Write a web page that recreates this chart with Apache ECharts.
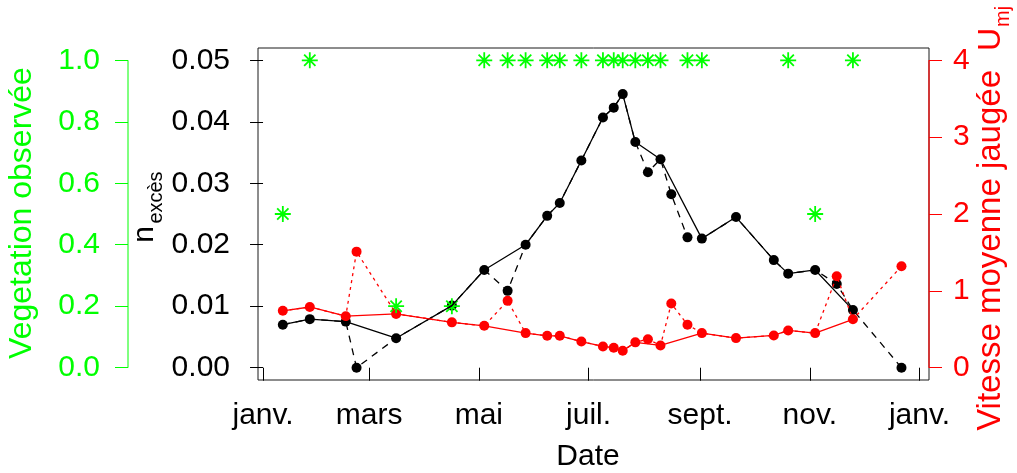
<!DOCTYPE html>
<html>
<head>
<meta charset="utf-8">
<script src="https://cdn.jsdelivr.net/npm/echarts@6/dist/echarts.min.js"></script>
<style>
  html, body { margin: 0; padding: 0; background: #ffffff; }
  #c { width: 1017px; height: 473px; }
</style>
</head>
<body>
<div id="c"></div>
<script>
// Sampling dates
const dates = [
  '2014-01-12', '2014-01-27', '2014-02-16', '2014-02-22', '2014-03-16', '2014-04-16',
  '2014-05-04', '2014-05-17', '2014-05-27', '2014-06-08', '2014-06-15', '2014-06-27',
  '2014-07-09', '2014-07-15', '2014-07-20', '2014-07-27', '2014-08-03', '2014-08-10',
  '2014-08-16', '2014-08-25', '2014-09-02', '2014-09-21', '2014-10-12', '2014-10-20',
  '2014-11-04', '2014-11-16', '2014-11-25', '2014-12-22'
];
// Manning roughness excess (left inner axis)
const nExces = [
  0.0070, 0.0079, 0.0075, 0.0000, 0.0048, 0.0101,
  0.0159, 0.0125, 0.0200, 0.0247, 0.0268, 0.0337,
  0.0407, 0.0423, 0.0445, 0.0367, 0.0318, 0.0339,
  0.0282, 0.0212, 0.0210, 0.0245, 0.0175, 0.0153,
  0.0159, 0.0136, 0.0094, 0.0000
];
// Gauged mean velocity (right axis)
const vitesse = [
  0.74, 0.79, 0.67, 1.51, 0.70, 0.59,
  0.545, 0.87, 0.45, 0.415, 0.415, 0.34,
  0.277, 0.26, 0.22, 0.33, 0.37, 0.29,
  0.835, 0.56, 0.45, 0.385, 0.42, 0.485,
  0.45, 1.19, 0.63, 1.32
];
// Observed vegetation (left outer axis), null = not observed
const vegetation = [
  0.5, 1, null, null, 0.2, 0.2,
  1, 1, 1, 1, 1, 1,
  1, 1, 1, 1, 1, 1,
  null, 1, 1, null, null, 1,
  0.5, null, 1, null
];
// Dates kept in the solid (filtered) series
const keep = [
  1, 1, 1, 0, 1, 1,
  1, 0, 1, 1, 1, 1,
  1, 1, 1, 1, 0, 1,
  0, 0, 1, 1, 1, 1,
  1, 0, 1, 0
];
// Axis ticks
const monthTicks = ['2014-01-01', '2014-03-01', '2014-05-01', '2014-07-01', '2014-09-01', '2014-11-01', '2015-01-01'];
const monthLabels = ['janv.', 'mars', 'mai', 'juil.', 'sept.', 'nov.', 'janv.'];
const nTicks = [0, 0.01, 0.02, 0.03, 0.04, 0.05];
const vegTicks = [0, 0.2, 0.4, 0.6, 0.8, 1.0];
const uTicks = [0, 1, 2, 3, 4];

const FONT = '"Liberation Sans", Arial, sans-serif';
const GREEN = '#00ff00';
const RED = '#ff0000';
const BLACK = '#000000';

const DAY = 86400000;
const ORIGIN = Date.UTC(2014, 0, 1);
function dayOf(s) {
  const p = s.split('-').map(Number);
  return (Date.UTC(p[0], p[1] - 1, p[2]) - ORIGIN) / DAY;
}
const xs = dates.map(dayOf);
const tickDays = monthTicks.map(dayOf);

const allPts = (vals) => xs.map((d, i) => [d, vals[i]]);
const keptPts = (vals) => xs.map((d, i) => [d, vals[i]]).filter((p, i) => keep[i]);
const vegPts = xs.map((d, i) => [d, vegetation[i]]).filter(p => p[1] !== null);

const GRID = { left: 258, top: 48, width: 671, height: 332 };
const GREEN_OFFSET = 130;

const tickFont = { fontSize: 30, fontFamily: FONT };

const chart = echarts.init(document.getElementById('c'), null, { renderer: 'canvas' });

const option = {
  animation: false,
  backgroundColor: '#ffffff',
  grid: {
    left: GRID.left, top: GRID.top, width: GRID.width, height: GRID.height,
    show: true, borderColor: '#1a1a1a', borderWidth: 1, backgroundColor: 'transparent'
  },
  xAxis: {
    type: 'value', min: -2.8, max: 370.3,
    axisLine: { show: false }, splitLine: { show: false },
    axisTick: { show: true, customValues: tickDays, length: 13, inside: false, lineStyle: { color: BLACK, width: 1 } },
    axisLabel: Object.assign({
      customValues: tickDays, color: BLACK, margin: 21, hideOverlap: false,
      formatter: v => monthLabels[tickDays.indexOf(v)]
    }, tickFont)
  },
  yAxis: [
    {
      type: 'value', position: 'left', min: -0.002, max: 0.052,
      axisLine: { show: false }, splitLine: { show: false },
      axisTick: { show: true, customValues: nTicks, length: 13, lineStyle: { color: BLACK, width: 1 } },
      axisLabel: Object.assign({
        customValues: nTicks, color: BLACK, margin: 28, padding: [4, 0, 0, 0],
        formatter: v => v.toFixed(2)
      }, tickFont)
    },
    {
      type: 'value', position: 'left', offset: GREEN_OFFSET, min: -0.04, max: 1.04,
      axisLine: { show: false }, splitLine: { show: false },
      axisTick: { show: true, customValues: vegTicks, length: 13, lineStyle: { color: GREEN, width: 1 } },
      axisLabel: Object.assign({
        customValues: vegTicks, color: GREEN, margin: 28, padding: [4, 0, 0, 0],
        formatter: v => v.toFixed(1)
      }, tickFont)
    },
    {
      type: 'value', position: 'right', min: -0.16, max: 4.16,
      axisLine: { show: false }, splitLine: { show: false },
      axisTick: { show: true, customValues: uTicks, length: 13, lineStyle: { color: RED, width: 1 } },
      axisLabel: Object.assign({
        customValues: uTicks, color: RED, margin: 24, padding: [4, 0, 0, 0],
        formatter: v => String(v)
      }, tickFont)
    }
  ],
  series: [
    {
      name: 'n dashed', type: 'line', yAxisIndex: 0, data: allPts(nExces),
      symbol: 'none', lineStyle: { color: BLACK, width: 1.3, type: [7, 6] }
    },
    {
      name: 'n solid', type: 'line', yAxisIndex: 0, data: keptPts(nExces),
      symbol: 'none', lineStyle: { color: BLACK, width: 1.3 }
    },
    {
      name: 'n points', type: 'scatter', yAxisIndex: 0, data: allPts(nExces),
      symbol: 'circle', symbolSize: 10, itemStyle: { color: BLACK, opacity: 1 }
    },
    {
      name: 'U dotted', type: 'line', yAxisIndex: 2, data: allPts(vitesse),
      symbol: 'none', lineStyle: { color: RED, width: 1.3, type: [3, 4] }
    },
    {
      name: 'U solid', type: 'line', yAxisIndex: 2, data: keptPts(vitesse),
      symbol: 'none', lineStyle: { color: RED, width: 1.3 }
    },
    {
      name: 'U points', type: 'scatter', yAxisIndex: 2, data: allPts(vitesse),
      symbol: 'circle', symbolSize: 10, itemStyle: { color: RED, opacity: 1 }
    },
    {
      name: 'vegetation', type: 'scatter', yAxisIndex: 1, data: vegPts,
      symbol: 'path://M0,-8L0,8M-8,0L8,0M-5.66,-5.66L5.66,5.66M-5.66,5.66L5.66,-5.66',
      symbolSize: 16, symbolKeepAspect: true,
      itemStyle: { color: 'none', borderColor: GREEN, borderWidth: 1.8, opacity: 1 }
    }
  ]
};

chart.setOption(option);

// Axis lines spanning first to last tick, and rotated axis titles
const gy0 = chart.convertToPixel({ yAxisIndex: 1 }, vegTicks[0]);
const gy1 = chart.convertToPixel({ yAxisIndex: 1 }, vegTicks[vegTicks.length - 1]);
const ry0 = chart.convertToPixel({ yAxisIndex: 2 }, uTicks[0]);
const ry1 = chart.convertToPixel({ yAxisIndex: 2 }, uTicks[uTicks.length - 1]);
const gx = GRID.left - GREEN_OFFSET;
const rx = GRID.left + GRID.width;

const rot = Math.PI / 2;
chart.setOption({
  graphic: [
    { type: 'line', shape: { x1: gx, y1: gy0, x2: gx, y2: gy1 }, style: { stroke: GREEN, lineWidth: 1 }, z: 10 },
    { type: 'line', shape: { x1: rx, y1: ry0, x2: rx, y2: ry1 }, style: { stroke: RED, lineWidth: 1.2 }, z: 10 },
    {
      type: 'text', x: 22, y: 213, rotation: rot,
      style: { text: 'Vegetation observée', fill: GREEN, font: '32px ' + FONT, align: 'center', verticalAlign: 'middle' }
    },
    {
      type: 'text', x: 144.6, y: 234.5, rotation: rot,
      style: { text: 'n', fill: BLACK, font: '30px ' + FONT, align: 'center', verticalAlign: 'middle' }
    },
    {
      type: 'text', x: 156, y: 197.5, rotation: rot,
      style: { text: 'excès', fill: BLACK, font: '20px ' + FONT, align: 'center', verticalAlign: 'middle' }
    },
    {
      type: 'text', x: 991, y: 70, rotation: rot,
      style: { text: 'Vitesse moyenne jaugée', fill: RED, font: '33px ' + FONT, align: 'right', verticalAlign: 'middle' }
    },
    {
      type: 'text', x: 991, y: 51, rotation: rot,
      style: { text: 'U', fill: RED, font: '32px ' + FONT, align: 'left', verticalAlign: 'middle' }
    },
    {
      type: 'text', x: 1003, y: 27, rotation: rot,
      style: { text: 'mj', fill: RED, font: '20px ' + FONT, align: 'left', verticalAlign: 'middle' }
    },
    {
      type: 'text', x: 588, y: 456.6,
      style: { text: 'Date', fill: BLACK, font: '30px ' + FONT, align: 'center', verticalAlign: 'middle' }
    }
  ]
});
</script>
</body>
</html>
